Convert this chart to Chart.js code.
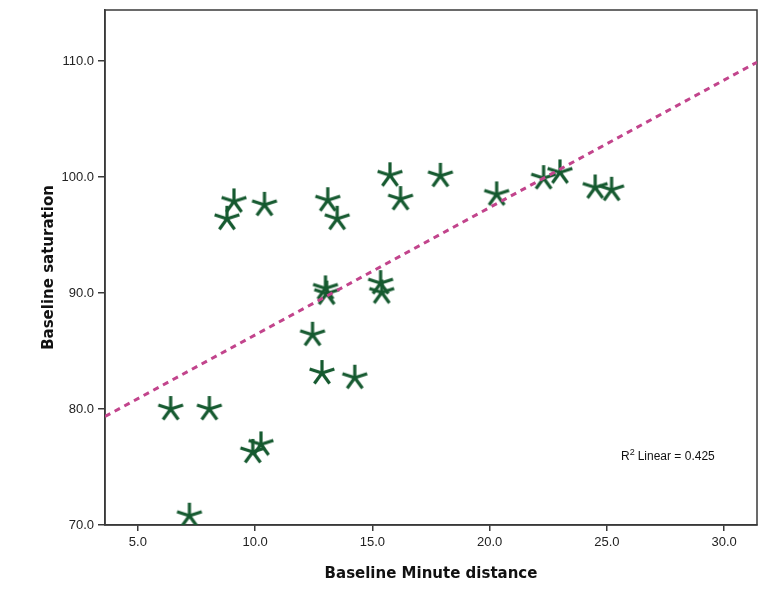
<!DOCTYPE html>
<html>
<head>
<meta charset="utf-8">
<script src="https://cdn.jsdelivr.net/npm/chart.js@4"></script>
<style>
  html, body { margin: 0; padding: 0; background: #fff; }
  #wrap { width: 759px; height: 603px; }
</style>
</head>
<body>
<div id="wrap"><canvas id="myChart" width="759" height="603"></canvas></div>
<script>
// data
const minuteDistance = [9.1, 8.8, 10.4, 13.1, 13.5, 13.0, 13.05, 15.75, 16.2, 17.9, 20.3, 22.3, 23.0, 24.5, 25.2,
  15.35, 15.4, 12.45, 12.85, 14.25, 6.4, 8.05, 10.25, 9.9, 7.2];
const saturation = [97.9, 96.4, 97.6, 98.0, 96.4, 90.4, 89.95, 100.15, 98.1, 100.1, 98.5, 99.9, 100.4, 99.1, 98.9,
  90.85, 90.05, 86.4, 83.1, 82.7, 80.0, 80.0, 76.95, 76.3, 70.8];
const fitX = [3.6, 31.4];
const fitY = [79.35, 109.9];
const xTicks = [5, 10, 15, 20, 25, 30];
const yTicks = [70, 80, 90, 100, 110];
const r2Text = 'Linear = 0.425';

function starImage(){
  const c = document.createElement('canvas');
  c.width = 32; c.height = 32;
  const g = c.getContext('2d');
  g.strokeStyle = '#165a30';
  g.lineWidth = 3.2;
  g.lineCap = 'butt';
  const r = 13;
  for (let i = 0; i < 5; i++) {
    const a = (-90 + i * 72) * Math.PI / 180;
    g.beginPath();
    g.moveTo(16, 16);
    g.lineTo(16 + r * Math.cos(a), 16 + r * Math.sin(a));
    g.stroke();
  }
  return c;
}

const points = minuteDistance.map((x, i) => ({x: x, y: saturation[i]}));
const fitLine = fitX.map((x, i) => ({x: x, y: fitY[i]}));

const boxPlugin = {
  id: 'box',
  beforeDatasetsDraw(chart) {
    const a = chart.chartArea, ctx = chart.ctx;
    ctx.save();
    ctx.strokeStyle = '#3a3a3a';
    ctx.lineWidth = 1.5;
    ctx.strokeRect(a.left, a.top, a.right - a.left, a.bottom - a.top);
    ctx.restore();
  },
  afterDraw(chart) {
    const ctx = chart.ctx;
    ctx.save();
    ctx.fillStyle = '#111';
    ctx.textBaseline = 'alphabetic';
    ctx.font = '12px "Liberation Sans", Arial, sans-serif';
    let x = 621, y = 460;
    ctx.fillText('R', x, y);
    x += ctx.measureText('R').width;
    ctx.font = '9px "Liberation Sans", Arial, sans-serif';
    ctx.fillText('2', x, y - 5);
    x += ctx.measureText('2').width + 3;
    ctx.font = '12px "Liberation Sans", Arial, sans-serif';
    ctx.fillText(r2Text, x, y);
    ctx.restore();
  }
};

const config = {
  type: 'scatter',
  data: {
    datasets: [
      {
        type: 'line',
        data: fitLine,
        borderColor: '#c2448c',
        borderWidth: 3,
        borderDash: [6, 5],
        pointRadius: 0,
        fill: false
      },
      {
        data: points,
        pointStyle: starImage(),
        pointRadius: 13
      }
    ]
  },
  options: {
    responsive: false,
    animation: false,
    layout: { autoPadding: false, padding: { left: 0, top: 10, right: 2, bottom: 0 } },
    plugins: { legend: { display: false }, tooltip: { enabled: false } },
    scales: {
      x: {
        type: 'linear',
        min: 3.6,
        max: 31.4,
        afterBuildTicks: s => { s.ticks = xTicks.map(v => ({value: v})); },
        afterFit: s => { s.height = 78; s.paddingLeft = 0; s.paddingRight = 0; },
        border: { color: '#3a3a3a', width: 1.5 },
        grid: { drawOnChartArea: false, drawTicks: true, tickLength: 6, color: '#3a3a3a', lineWidth: 1.5 },
        ticks: {
          color: '#222',
          padding: 4,
          maxRotation: 0,
          font: { family: '"Liberation Sans", Arial, sans-serif', size: 13 },
          callback: v => v.toFixed(1)
        },
        title: {
          display: true,
          text: 'Baseline Minute distance',
          color: '#111',
          font: { family: '"DejaVu Sans", Verdana, sans-serif', size: 15, weight: 'bold' },
          padding: { top: 0, bottom: 20 }
        }
      },
      y: {
        type: 'linear',
        min: 70,
        max: 114.4,
        afterBuildTicks: s => { s.ticks = yTicks.map(v => ({value: v})); },
        afterFit: s => { s.width = 105; s.paddingTop = 0; s.paddingBottom = 0; },
        border: { color: '#3a3a3a', width: 1.5 },
        grid: { drawOnChartArea: false, drawTicks: true, tickLength: 7, color: '#3a3a3a', lineWidth: 1.5 },
        ticks: {
          color: '#222',
          padding: 4,
          font: { family: '"Liberation Sans", Arial, sans-serif', size: 13 },
          callback: v => v.toFixed(1)
        },
        title: {
          display: true,
          text: 'Baseline saturation',
          color: '#111',
          font: { family: '"DejaVu Sans", Verdana, sans-serif', size: 15, weight: 'bold' },
          padding: { top: 40, bottom: 0 }
        }
      }
    }
  },
  plugins: [boxPlugin]
};

const myChart = new Chart(document.getElementById('myChart'), config);
</script>
</body>
</html>
